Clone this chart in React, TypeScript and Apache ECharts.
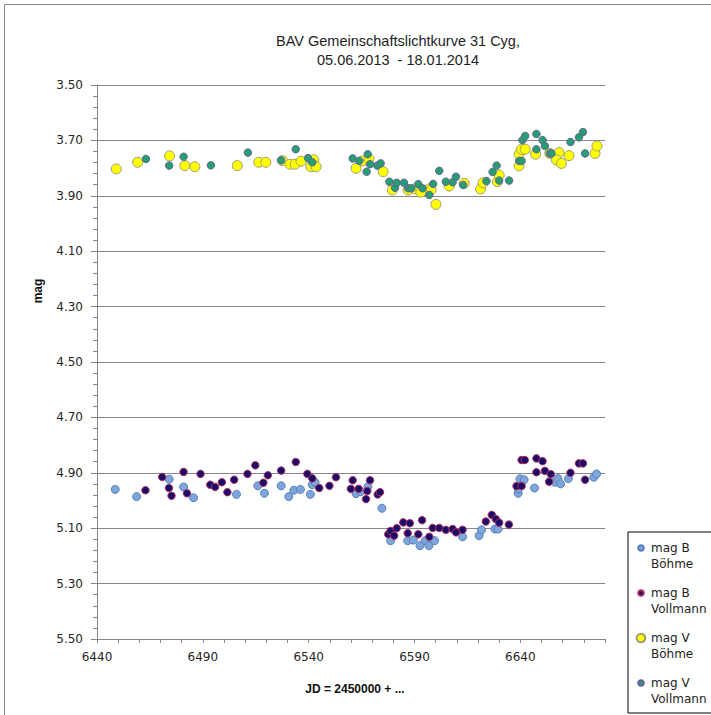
import React, { useEffect, useRef } from 'react';
import * as echarts from 'echarts';

const titleText = 'BAV Gemeinschaftslichtkurve 31 Cyg,\n05.06.2013  - 18.01.2014';
const xAxisName = 'JD = 2450000 + ...';
const yAxisName = 'mag';
const seriesNames = ['mag B Böhme', 'mag B Vollmann', 'mag V Böhme', 'mag V Vollmann'];

const magBBoehme = [
  [6448.6, 4.960], [6458.7, 4.986], [6474.1, 4.923], [6480.9, 4.951], [6485.6, 4.990],
  [6505.9, 4.978], [6516.0, 4.947], [6519.1, 4.974], [6527.0, 4.947], [6530.6, 4.986],
  [6533.0, 4.963], [6536.1, 4.960], [6540.8, 4.978], [6541.7, 4.943], [6543.0, 4.934],
  [6562.4, 4.975], [6564.6, 4.968], [6568.0, 4.950], [6574.6, 5.028], [6578.7, 5.145],
  [6586.8, 5.145], [6589.4, 5.143], [6592.6, 5.163], [6595.1, 5.145], [6596.8, 5.163],
  [6599.5, 5.145], [6612.7, 5.131], [6620.5, 5.127], [6621.7, 5.106], [6628.0, 5.103],
  [6629.5, 5.103], [6639.0, 4.974], [6639.0, 4.958], [6639.8, 4.922], [6641.8, 4.925],
  [6646.7, 4.955], [6656.3, 4.934], [6657.8, 4.921], [6659.0, 4.940], [6662.7, 4.921],
  [6674.7, 4.916], [6676.0, 4.904],
];

const magBVollmann = [
  [6462.9, 4.963], [6470.8, 4.915], [6474.0, 4.955], [6475.2, 4.983], [6480.9, 4.897],
  [6482.5, 4.974], [6488.9, 4.904], [6493.5, 4.943], [6495.8, 4.951], [6499.0, 4.934],
  [6501.6, 4.970], [6504.8, 4.925], [6511.1, 4.904], [6514.8, 4.873], [6518.6, 4.936],
  [6520.7, 4.909], [6527.0, 4.892], [6533.9, 4.861], [6539.4, 4.904], [6541.7, 4.920],
  [6545.0, 4.955], [6549.8, 4.947], [6552.9, 4.916], [6560.8, 4.927], [6559.9, 4.958],
  [6563.6, 4.958], [6569.0, 4.927], [6567.7, 4.966], [6567.1, 4.995], [6572.6, 4.978],
  [6573.7, 4.970], [6577.6, 5.122], [6578.7, 5.110], [6580.4, 5.127], [6581.6, 5.100],
  [6584.7, 5.079], [6587.8, 5.082], [6586.8, 5.118], [6591.8, 5.122], [6593.6, 5.071],
  [6597.0, 5.131], [6598.6, 5.099], [6601.7, 5.099], [6604.8, 5.106], [6608.0, 5.103],
  [6609.6, 5.115], [6612.7, 5.106], [6623.7, 5.076], [6626.5, 5.052], [6628.4, 5.067],
  [6630.0, 5.080], [6634.6, 5.087], [6638.2, 4.948], [6640.6, 4.948], [6640.6, 4.854],
  [6642.1, 4.854], [6647.6, 4.848], [6650.5, 4.858], [6647.6, 4.898], [6651.6, 4.893],
  [6654.4, 4.905], [6653.6, 4.932], [6663.7, 4.900], [6667.7, 4.866], [6669.6, 4.866],
  [6670.6, 4.925],
];

const magVBoehme = [
  [6449.1, 3.803], [6459.2, 3.779], [6474.3, 3.756], [6481.5, 3.791], [6486.2, 3.795],
  [6506.3, 3.791], [6516.4, 3.779], [6519.8, 3.779], [6527.6, 3.773], [6531.2, 3.786],
  [6533.6, 3.786], [6536.4, 3.775], [6542.4, 3.770], [6541.0, 3.795], [6543.5, 3.795],
  [6562.4, 3.801], [6565.5, 3.774], [6568.5, 3.767], [6575.2, 3.813], [6579.5, 3.879],
  [6587.0, 3.879], [6590.2, 3.875], [6593.0, 3.887], [6597.0, 3.875], [6597.8, 3.879],
  [6600.1, 3.931], [6606.4, 3.865], [6613.5, 3.855], [6621.2, 3.875], [6622.4, 3.853],
  [6629.2, 3.849], [6630.0, 3.825], [6639.4, 3.792], [6639.4, 3.750], [6640.6, 3.732],
  [6642.3, 3.732], [6647.2, 3.750], [6653.9, 3.747], [6658.3, 3.744], [6657.1, 3.771],
  [6659.4, 3.783], [6663.0, 3.755], [6675.3, 3.747], [6676.2, 3.720],
];

const magVVollmann = [
  [6463.1, 3.767], [6474.1, 3.791], [6480.9, 3.759], [6493.8, 3.790], [6511.3, 3.744],
  [6527.0, 3.772], [6533.9, 3.732], [6539.7, 3.764], [6541.7, 3.779], [6560.8, 3.765],
  [6563.9, 3.774], [6567.9, 3.750], [6569.0, 3.786], [6567.4, 3.813], [6572.4, 3.791],
  [6574.0, 3.783], [6578.1, 3.849], [6580.8, 3.871], [6581.6, 3.853], [6585.0, 3.853],
  [6587.0, 3.873], [6588.5, 3.873], [6591.8, 3.858], [6593.8, 3.873], [6597.0, 3.897],
  [6598.8, 3.857], [6601.7, 3.810], [6604.8, 3.849], [6608.0, 3.851], [6609.6, 3.831],
  [6613.0, 3.861], [6624.0, 3.847], [6626.9, 3.814], [6628.8, 3.791], [6630.0, 3.845],
  [6634.7, 3.845], [6639.4, 3.774], [6640.6, 3.774], [6641.0, 3.699], [6642.3, 3.684],
  [6647.6, 3.677], [6647.6, 3.732], [6650.5, 3.699], [6651.6, 3.720], [6653.9, 3.747],
  [6654.7, 3.747], [6663.7, 3.706], [6667.7, 3.689], [6669.6, 3.670], [6670.6, 3.747],
];

const xMin = 6440;
const xMax = 6680;
const xLabelStep = 50;
const yMin = 3.5;
const yMax = 5.5;
const yStep = 0.2;

const axisColor = '#868686';
const labelFont = 'DejaVu Sans';
const textFont = 'Liberation Sans';

function legendIcon(r: number): string {
  return `path://M0 0M10 32M${5 - r} 8A${r} ${r} 0 1 1 ${5 + r} 8A${r} ${r} 0 1 1 ${5 - r} 8Z`;
}

export default function App() {
  const ref = useRef<HTMLDivElement>(null);

  useEffect(() => {
    if (!ref.current) return;
    const chart = echarts.init(ref.current, undefined, { renderer: 'svg' });

    const styles = [
      { size: 8, color: '#7EA6DA', border: '#5580BE', icon: 2.8 },
      { size: 7.5, color: '#1B0C6A', border: '#B2305E', icon: 2.8 },
      { size: 10, color: '#FFFF00', border: '#9C9C78', icon: 4.3 },
      { size: 7.5, color: '#23A06E', border: '#6B5E9E', icon: 2.8 },
    ];
    const datasets = [magBBoehme, magBVollmann, magVBoehme, magVVollmann];

    chart.setOption({
      animation: false,
      backgroundColor: '#ffffff',
      title: {
        text: titleText,
        left: 393,
        top: 26,
        textAlign: 'center',
        textStyle: {
          fontFamily: textFont,
          fontSize: 14.5,
          fontWeight: 'normal',
          color: '#1e1e1e',
          lineHeight: 19,
        },
      },
      legend: {
        orient: 'vertical',
        left: 628,
        top: 532,
        padding: [7, 6, 5, 7],
        itemWidth: 10,
        itemHeight: 32,
        itemGap: 11,
        borderColor: '#000',
        borderWidth: 1,
        backgroundColor: '#fff',
        selectedMode: false,
        data: seriesNames.map((n, i) => ({ name: n, icon: legendIcon(styles[i].icon) })),
        formatter: (name: string) => name.replace(/^(mag [BV]) /, '$1\n'),
        textStyle: {
          fontFamily: labelFont,
          fontSize: 12,
          lineHeight: 16,
          color: '#222',
        },
      },
      grid: { left: 97, right: 106, top: 85, bottom: 76 },
      xAxis: {
        type: 'value',
        min: xMin,
        max: xMax,
        interval: 10,
        name: xAxisName,
        nameLocation: 'middle',
        nameGap: 44,
        nameTextStyle: {
          fontFamily: textFont,
          fontSize: 12,
          fontWeight: 'bold',
          color: '#111',
          padding: [0, 0, 0, 8],
        },
        axisLine: { show: true, lineStyle: { color: axisColor, width: 1 } },
        axisTick: { show: true, length: 4, lineStyle: { color: axisColor } },
        axisLabel: {
          fontFamily: labelFont,
          fontSize: 12,
          color: '#262626',
          margin: 12,
          formatter: (v: number) => ((v - xMin) % xLabelStep === 0 && v < xMax ? String(v) : ''),
        },
        splitLine: { show: false },
      },
      yAxis: {
        type: 'value',
        inverse: true,
        min: yMin,
        max: yMax,
        interval: yStep,
        axisLine: { show: true, lineStyle: { color: axisColor, width: 1 } },
        axisTick: { show: true, length: 6, lineStyle: { color: axisColor } },
        minorTick: { show: true, splitNumber: 5, length: 4, lineStyle: { color: axisColor } },
        axisLabel: {
          fontFamily: labelFont,
          fontSize: 12,
          color: '#262626',
          margin: 14,
          formatter: (v: number) => v.toFixed(2),
        },
        splitLine: { show: true, lineStyle: { color: axisColor, width: 1 } },
      },
      graphic: [
        {
          type: 'rect',
          shape: { x: 4.5, y: 4.5, width: 730, height: 730 },
          style: { fill: 'none', stroke: axisColor, lineWidth: 1 },
          silent: true,
          z: -10,
        },
        {
          type: 'text',
          x: 38,
          y: 291,
          rotation: Math.PI / 2,
          style: {
            text: yAxisName,
            fontFamily: textFont,
            fontSize: 12,
            fontWeight: 'bold',
            fill: '#111',
            align: 'center',
            verticalAlign: 'middle',
          },
        },
      ],
      series: datasets.map((d, i) => ({
        name: seriesNames[i],
        type: 'scatter',
        data: d,
        symbol: 'circle',
        symbolSize: styles[i].size,
        itemStyle: {
          color: styles[i].color,
          borderColor: styles[i].border,
          borderWidth: 1,
          opacity: 1,
        },
        z: 2 + i,
      })),
    });

    return () => chart.dispose();
  }, []);

  return <div ref={ref} style={{ position: 'fixed', left: 0, top: 0, width: 711, height: 715 }} />;
}
